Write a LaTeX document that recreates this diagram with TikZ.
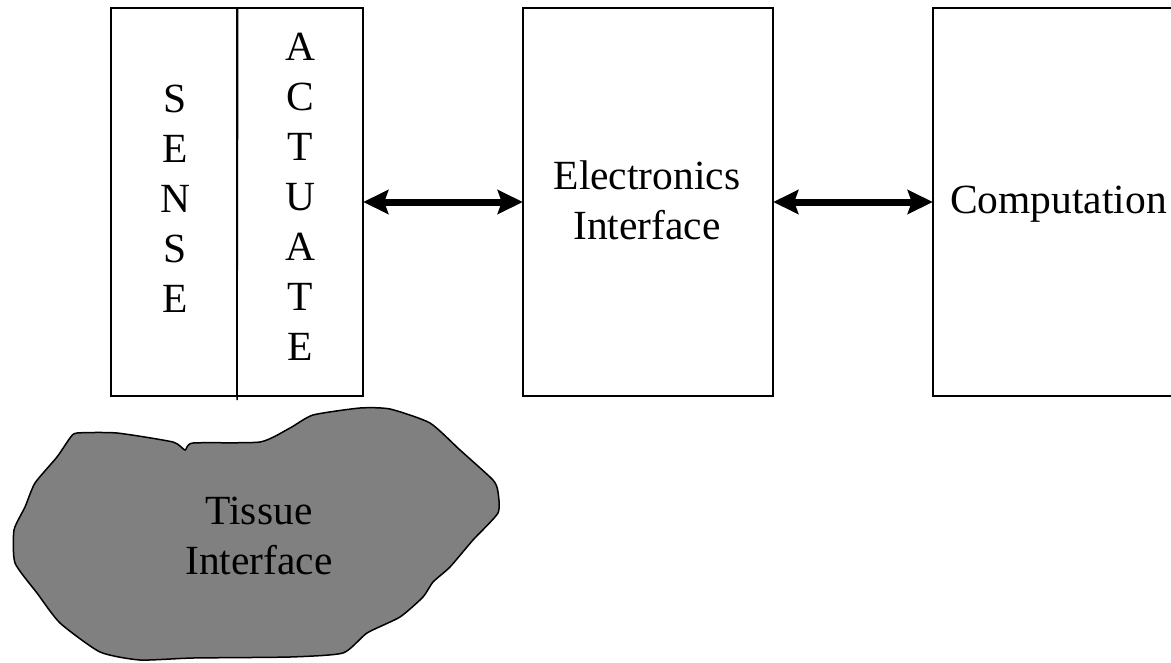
\documentclass[tikz,border=0pt]{standalone}
\usepackage{fontspec}
\setmainfont{Liberation Serif}
\usetikzlibrary{arrows.meta}
\definecolor{tissuegray}{RGB}{128,128,128}
\begin{document}
\begin{tikzpicture}[x=1pt,y=-1pt,
  box/.style={draw=black, line width=1.5pt, rectangle, inner sep=0pt, minimum height=388pt},
  lbl/.style={font=\fontsize{41.5}{50}\selectfont, align=center, inner sep=0pt},
  dblarrow/.style={line width=7pt, {Stealth[length=25pt,width=24pt,inset=4pt]}-{Stealth[length=25pt,width=24pt,inset=4pt]}, shorten <=-0.5pt, shorten >=-0.5pt}
]
\useasboundingbox (0,0) rectangle (1171,662);
\fill[white] (0,0) rectangle (1171,662);

% boxes
\node[box, minimum width=126pt] (sense) at (174,202) {};
\node[box, minimum width=126pt] (actuate) at (300,202) {};
\node[box, minimum width=250pt] (elec) at (648,202) {};
\node[box, minimum width=250pt] (comp) at (1058,202) {};
\coordinate (divbot) at (237,400);
\draw[line width=1.5pt] (sense.north east) -- (divbot);

% labels
\node[lbl] (sensetxt) at (175,199) {S\\E\\N\\S\\E};
\node[lbl] (acttxt) at (300,197) {A\\C\\T\\U\\A\\T\\E};
\node[lbl] (electxt) at (647,200) {Electronics\\Interface};
\node[lbl, anchor=base west] (comptxt) at (950,213) {Computation};

% connectors
\draw[dblarrow] (actuate.east) -- (elec.west);
\draw[dblarrow] (elec.east) -- (comp.west);

% tissue blob
\draw[line width=1.5pt, fill=tissuegray]
  plot[smooth cycle, tension=0.35] coordinates {
  (77,433) (117,433) (173,442) (185,450) (193,443) (260,442) (290,428)
  (313,415) (360,408) (390,409) (430,423) (460,450) (493,480) (498,492)
  (498,513) (473,540) (450,567) (433,582) (423,597) (400,617) (367,633)
  (343,653) (290,657) (193,658) (140,660) (100,652) (60,623) (37,593)
  (15,563) (14,530) (25,507) (35,483) (57,457) (70,438)};
\node[lbl] (tissuetxt) at (259,536) {Tissue\\Interface};
\end{tikzpicture}
\end{document}
